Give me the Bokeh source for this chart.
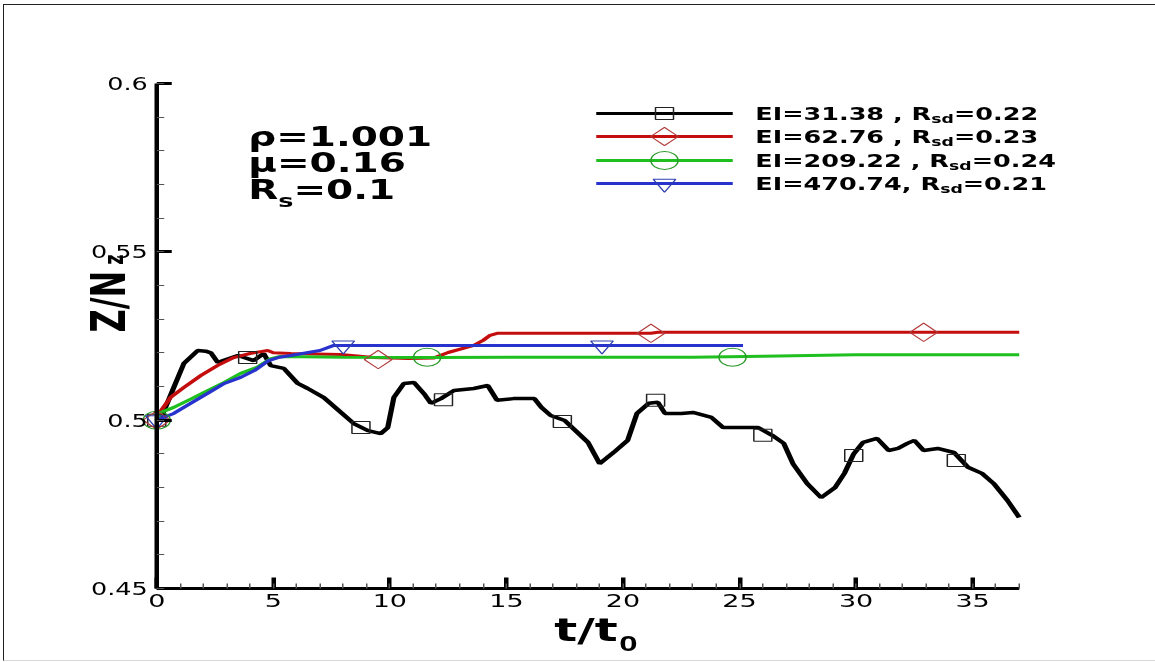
import math
from bokeh.plotting import figure
from bokeh.models import Label, FixedTicker, CustomJSTickFormatter, Range1d, InlineStyleSheet
from bokeh.embed import file_html
from bokeh.resources import INLINE

# ---------------- data ----------------
# EI = 31.38, Rsd = 0.22
t_el31 = [0.0, 0.17, 0.45, 0.73, 1.16, 1.76, 2.1, 2.32, 2.62, 2.88, 3.48, 4.16, 4.59, 4.89, 5.45,
          6.05, 6.48, 7.17, 7.9, 8.45, 9.06, 9.61, 9.91, 10.17, 10.6, 11.03, 11.46, 11.76, 12.19, 12.75,
          13.6, 14.2, 14.6, 15.3, 16.2, 16.5, 16.9, 17.5, 18.1, 18.5, 19.0, 19.6, 20.2, 20.6, 21.1,
          21.5, 21.8, 22.5, 23.0, 23.8, 24.3, 25.2, 25.8, 26.4, 26.9, 27.3, 27.9, 28.5, 29.1, 29.5,
          29.9, 30.3, 30.9, 31.4, 31.8, 32.2, 32.5, 32.9, 33.5, 34.2, 34.8, 35.4, 35.9, 36.5, 37.0]
z_el31 = [0.5000, 0.5005, 0.5050, 0.5097, 0.5168, 0.5207, 0.5205, 0.5200, 0.5171, 0.5178, 0.5192, 0.5177, 0.5198, 0.5162, 0.5154,
          0.5109, 0.5094, 0.5067, 0.5023, 0.4990, 0.4969, 0.4960, 0.4978, 0.5067, 0.5109, 0.5112, 0.5079, 0.5050, 0.5064, 0.5088,
          0.5094, 0.5103, 0.5059, 0.5064, 0.5064, 0.5038, 0.5014, 0.4999, 0.4960, 0.4934, 0.4871, 0.4904, 0.4940, 0.5020, 0.5050,
          0.5053, 0.5020, 0.5020, 0.5023, 0.5008, 0.4978, 0.4978, 0.4978, 0.4955, 0.4931, 0.4870, 0.4812, 0.4770, 0.4800, 0.4842,
          0.4900, 0.4934, 0.4946, 0.4910, 0.4916, 0.4931, 0.4940, 0.4910, 0.4916, 0.4904, 0.4860, 0.4842, 0.4812, 0.4761, 0.4711]

# EI = 62.76, Rsd = 0.23
t_el62 = [0.0, 0.1, 0.6, 1.16, 1.9, 2.6, 3.3, 4.0, 4.76, 5.0, 5.75, 7.9, 9.3, 10.8, 11.9, 12.5,
          13.6, 14.0, 14.3, 14.6, 21.2, 21.5, 37.0]
z_el62 = [0.5000, 0.5020, 0.5068, 0.5097, 0.5133, 0.5162, 0.5186, 0.5198, 0.5207, 0.5200, 0.5198, 0.5195, 0.5186, 0.5183, 0.5185, 0.5201,
          0.5222, 0.5237, 0.5252, 0.5258, 0.5258, 0.5261, 0.5261]

# EI = 209.22, Rsd = 0.24
t_el209 = [0.0, 0.17, 0.73, 1.5, 2.2, 2.9, 3.6, 4.3, 4.9, 5.3, 8.0, 12.0, 18.0, 23.0, 26.0, 30.0, 37.0]
z_el209 = [0.5000, 0.5023, 0.5038, 0.5064, 0.5088, 0.5112, 0.5139, 0.5157, 0.5183, 0.5189, 0.5187, 0.5186, 0.5187, 0.5187,
           0.5190, 0.5194, 0.5194]

# EI = 470.74, Rsd = 0.21
t_el470 = [0.0, 0.17, 0.73, 1.45, 2.2, 2.9, 3.6, 4.2, 4.8, 5.2, 5.75, 6.5, 7.0, 7.6, 25.15]
z_el470 = [0.5000, 0.5005, 0.5020, 0.5050, 0.5080, 0.5109, 0.5127, 0.5148, 0.5177, 0.5186, 0.5192, 0.5201, 0.5207, 0.5222, 0.5222]

# symbol positions along each curve
sym_t_el31 = [0.0, 3.9, 8.76, 12.3, 17.4, 21.4, 26.0, 29.9, 34.3]
sym_z_el31 = [0.5000, 0.5186, 0.4978, 0.5061, 0.4996, 0.5059, 0.4955, 0.4895, 0.4880]
sym_t_el62 = [0.0, 9.5, 21.2, 32.9]
sym_z_el62 = [0.5000, 0.5180, 0.5258, 0.5261]
sym_t_el209 = [0.0, 11.6, 24.7]
sym_z_el209 = [0.5000, 0.5187, 0.5187]
sym_t_el470 = [0.0, 8.0, 19.1]
sym_z_el470 = [0.5000, 0.5222, 0.5222]

ei_labels = ["EI=31.38 , R", "EI=62.76 , R", "EI=209.22 , R", "EI=470.74, R"]
rsd_values = ["=0.22", "=0.23", "=0.24", "=0.21"]

x_ticks = [0, 5, 10, 15, 20, 25, 30, 35]
x_minor = list(range(0, 38))
y_ticks = [0.45, 0.5, 0.55, 0.6]
y_minor = [round(0.45 + 0.01 * i, 2) for i in range(16)]

# ---------------- layout ----------------
STRETCH = 1.5          # horizontal scale applied to the drawing surface
W, H = 1155, 662
FRAME_L, FRAME_R, FRAME_T, FRAME_B = 50, 765, 6, 661      # plotting frame (pre-stretch px)
AXIS_L, AXIS_R, AXIS_T, AXIS_B = 104, 679, 83, 588         # where the axes' ends sit
T0, T1, Z0, Z1 = 0.0, 37.0, 0.45, 0.60
PX_PER_T = (AXIS_R - AXIS_L) / (T1 - T0)
PX_PER_Z = (AXIS_B - AXIS_T) / (Z1 - Z0)
X_LO, X_HI = T0 - (AXIS_L - FRAME_L) / PX_PER_T, T1 + (FRAME_R - AXIS_R) / PX_PER_T
Y_LO, Y_HI = Z0 - (FRAME_B - AXIS_B) / PX_PER_Z, Z1 + (AXIS_T - FRAME_T) / PX_PER_Z
FONT = "DejaVu Sans"


def dx(px):
    """canvas x pixel -> data x"""
    return T0 + (px - AXIS_L) / PX_PER_T


def dy(py):
    """canvas y pixel -> data y"""
    return Z0 + (AXIS_B - py) / PX_PER_Z


# DejaVu Sans Bold advance widths (em), used to place subscripts after a run of text
DEJAVU_BOLD = {" ": .348, ",": .380, ".": .380, "=": .838, "E": .683, "I": .372, "R": .770,
               "s": .595, "d": .716, "t": .478, "/": .365, "Z": .725, "N": .837, "z": .582}


def text_width(s, size):
    return sum(DEJAVU_BOLD.get(c, .696) for c in s) * size


p = figure(width=W, height=H, x_range=Range1d(X_LO, X_HI), y_range=Range1d(Y_LO, Y_HI),
           output_backend="svg", toolbar_location=None,
           min_border_left=FRAME_L, min_border_right=W - FRAME_R,
           min_border_top=FRAME_T, min_border_bottom=H - FRAME_B)
p.stylesheets = [InlineStyleSheet(css=(
    ":host { overflow: hidden !important; position: relative; }"
    f":host > div {{ transform: scaleX({STRETCH}); transform-origin: 0 0; }}"
    ":host::after { content: ''; position: absolute; left: 3px; top: 4px; right: 0; bottom: 1px;"
    " border-left: 1px solid #222; border-top: 1px solid #222; border-bottom: 1px solid #d8d8d8;"
    " pointer-events: none; z-index: 10; }"
))]
p.grid.visible = False
p.outline_line_color = None
p.background_fill_color = "white"
p.border_fill_color = "white"

fmt = CustomJSTickFormatter(code="return String(tick);")
for ax, ticks, minor, bounds in ((p.xaxis[0], x_ticks, x_minor, (T0, T1)),
                                 (p.yaxis[0], y_ticks, y_minor, (Z0, Z1))):
    ax.ticker = FixedTicker(ticks=ticks, minor_ticks=minor)
    ax.bounds = bounds
    ax.formatter = fmt
    ax.axis_line_width = 3
    ax.axis_line_color = "black"
    ax.major_tick_out = 0
    ax.minor_tick_out = 0
    ax.major_tick_line_width = 3
    ax.minor_tick_line_width = 1
    ax.minor_tick_line_color = "#555555"
    ax.major_label_text_font = FONT
    ax.major_label_text_color = "black"
# both axes meet at (t, Z/Nz) = (0, 0.45)
p.yaxis.fixed_location = T0
p.xaxis.fixed_location = Z0
p.xaxis.major_label_text_font_size = "18px"
p.yaxis.major_label_text_font_size = "17px"
p.xaxis.major_tick_in = 11
p.xaxis.minor_tick_in = 5
p.xaxis.major_label_standoff = 6
p.yaxis.major_tick_in = 10
p.yaxis.minor_tick_in = 5
p.yaxis.major_label_standoff = 6

series = [
    (t_el31, z_el31, sym_t_el31, sym_z_el31, "#000000", "#222222", 3.5, "square", 12, 0.0),
    (t_el62, z_el62, sym_t_el62, sym_z_el62, "#c40e0e", "#b03a3a", 3.0, "square", 13, math.pi / 4),
    (t_el209, z_el209, sym_t_el209, sym_z_el209, "#1fbf1f", "#2a9a2a", 3.0, "circle", 18, 0.0),
    (t_el470, z_el470, sym_t_el470, sym_z_el470, "#2733cc", "#3040b0", 3.0, "inverted_triangle", 15, 0.0),
]

# curves, then symbols on top
for t, z, st, sz, col, scol, lw, mk, ms, ang in series:
    p.line(t, z, line_color=col, line_width=lw)
for t, z, st, sz, col, scol, lw, mk, ms, ang in series:
    p.scatter(st, sz, marker=mk, size=ms, angle=ang, fill_alpha=0, line_color=scol, line_width=1)


def add_text(x, y, text, size, dx_px=0, dy_px=0, angle=0.0, font=FONT):
    """text whose glyph box is centred on (x, y) across the reading direction"""
    p.add_layout(Label(x=x, y=y, x_offset=dx_px, y_offset=dy_px, text=text, angle=angle,
                       text_font=font, text_font_style="bold",
                       text_font_size=f"{size}px", text_color="black",
                       text_baseline="alphabetic", text_align="left"))


# x title: t/t0
XT_FONT, XT_SUB = 32, 22
wtt = text_width("t/t", XT_FONT)
add_text(dx(369), dy(630), "t/t", XT_FONT)
add_text(dx(369), dy(630), "0", XT_SUB, dx_px=wtt + 1, dy_px=-13, font="Liberation Sans")

# y title: Z/N with subscript z, reading upwards
YT_FONT, YT_SUB = 32, 18
wzn = text_width("Z/N", YT_FONT)
add_text(dx(72), dy(332), "Z/N", YT_FONT, angle=math.pi / 2)
add_text(dx(72), dy(332), "z", YT_SUB, dx_px=3, dy_px=wzn + 6, angle=math.pi / 2)

# legend block
LEG_LINE_L, LEG_LINE_R, LEG_TEXT_L = 397, 488, 503
LEG_ROWS = [113, 136, 160, 183]
LEG_FONT, LEG_SUB = 17, 11.5
for i, (t, z, st, sz, col, scol, lw, mk, ms, ang) in enumerate(series):
    yrow = dy(LEG_ROWS[i])
    p.line([dx(LEG_LINE_L), dx(LEG_LINE_R)], [yrow, yrow], line_color=col, line_width=3)
    p.scatter([dx((LEG_LINE_L + LEG_LINE_R) / 2)], [yrow], marker=mk, size=ms, angle=ang,
              fill_alpha=0, line_color=scol, line_width=1)
    text_y = dy(LEG_ROWS[i] + 0.5)
    w0 = text_width(ei_labels[i], LEG_FONT)
    w1 = text_width("sd", LEG_SUB)
    add_text(dx(LEG_TEXT_L), text_y, ei_labels[i], LEG_FONT)
    add_text(dx(LEG_TEXT_L), text_y, "sd", LEG_SUB, dx_px=w0, dy_px=-5)
    add_text(dx(LEG_TEXT_L), text_y, rsd_values[i], LEG_FONT, dx_px=w0 + w1)

# parameter block
PAR_L = 165
PAR_FONT, PAR_SUB = 26, 17
add_text(dx(PAR_L), dy(136), "\u03c1=1.001", PAR_FONT)
add_text(dx(PAR_L), dy(162.5), "\u03bc=0.16", PAR_FONT)
wr = text_width("R", PAR_FONT)
ws = text_width("s", PAR_SUB)
add_text(dx(PAR_L), dy(189.5), "R", PAR_FONT)
add_text(dx(PAR_L), dy(189.5), "s", PAR_SUB, dx_px=wr, dy_px=-11)
add_text(dx(PAR_L), dy(189.5), "=0.1", PAR_FONT, dx_px=wr + ws)

open("out.html", "w").write(file_html(p, INLINE))
